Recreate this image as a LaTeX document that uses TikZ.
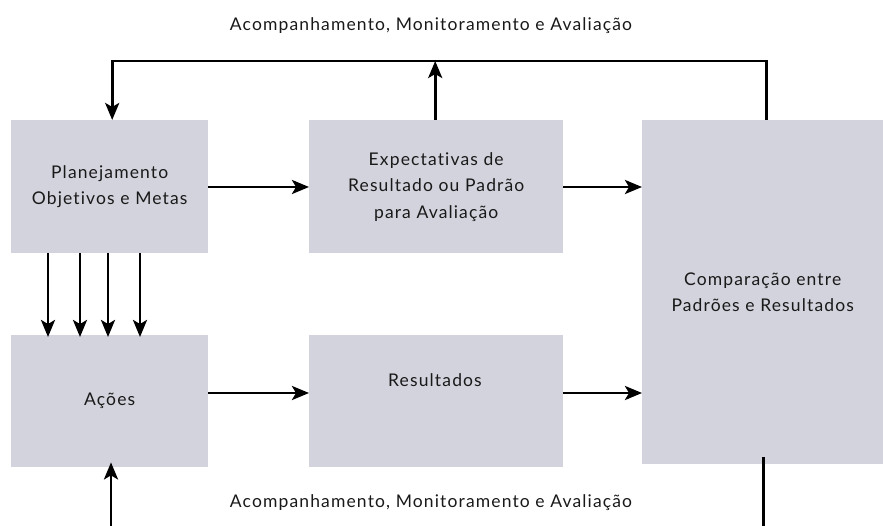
\documentclass[tikz,border=0pt]{standalone}
\usepackage{fontspec}
\setmainfont[LetterSpace=6.5,Ligatures=NoCommon]{Lato}
\usetikzlibrary{arrows.meta}
\definecolor{boxgray}{RGB}{211,211,221}
\definecolor{txt}{RGB}{25,25,25}
\begin{document}
\begin{tikzpicture}[x=1pt,y=-1pt,
  box/.style={fill=boxgray, draw=none, inner sep=0pt, anchor=north west, font=\fontsize{17.5}{26.5}\selectfont, align=center, text=txt},
  lbl/.style={font=\fontsize{17.5}{26.5}\selectfont, inner sep=0pt, text=txt},
  conn/.style={line width=2.8pt, -{Stealth[length=17pt,width=14pt,inset=4pt]}},
  wire/.style={line width=2.8pt}]
\useasboundingbox (0,0) rectangle (883,526);
\node[box, minimum width=197pt, minimum height=133pt] (plan) at (11,120) {Planejamento\\Objetivos e Metas};
\node[box, minimum width=254pt, minimum height=133pt] (exp) at (309,120) {Expectativas de\\Resultado ou Padrão\\para Avaliação};
\node[box, minimum width=241pt, minimum height=344pt] (comp) at (642,120) {Comparação entre\\Padrões e Resultados};
\node[box, minimum width=197pt, minimum height=132pt] (acoes) at (11,335) {Ações};
\node[box, minimum width=254pt, minimum height=132pt] (res) at (309,335) {};
\node[lbl] (restxt) at (435,380) {Resultados};
\node[lbl] (toplbl) at (431,26) {Acompanhamento, Monitoramento e Avaliação};
\node[lbl] (botlbl) at (431,503) {Acompanhamento, Monitoramento e Avaliação};
\coordinate (topline) at (0,61);
\coordinate (botend) at (0,526);
% horizontal arrows
\draw[conn] (208,187) coordinate (p1) -- (p1 -| exp.west);
\draw[conn] (563,187) coordinate (p2) -- (p2 -| comp.west);
\draw[conn] (208,393) coordinate (p3) -- (p3 -| res.west);
\draw[conn] (563,393) coordinate (p4) -- (p4 -| comp.west);
% top loop
\coordinate (cn) at ([xshift=3.5pt]comp.north);
\coordinate (pn) at ([xshift=2.5pt]plan.north);
\draw[conn] (cn) -- (cn |- topline) -- (pn |- topline) -- (pn);
\draw[conn] ([xshift=-1pt]exp.north) -- ([xshift=-1pt]exp.north |- topline);
% four arrows
\foreach \xx in {48,80,108,140}{
  \draw[conn] (plan.south -| \xx,0) -- ([yshift=-2pt]acoes.north -| \xx,0);
}
% bottom loop
\draw[conn] (111,526) coordinate (b1) -- ([yshift=5pt]b1 |- acoes.south);
\draw[wire] ([xshift=0.5pt,yshift=7pt]comp.south) -- ([xshift=0.5pt]comp.south |- botend);
\end{tikzpicture}
\end{document}
